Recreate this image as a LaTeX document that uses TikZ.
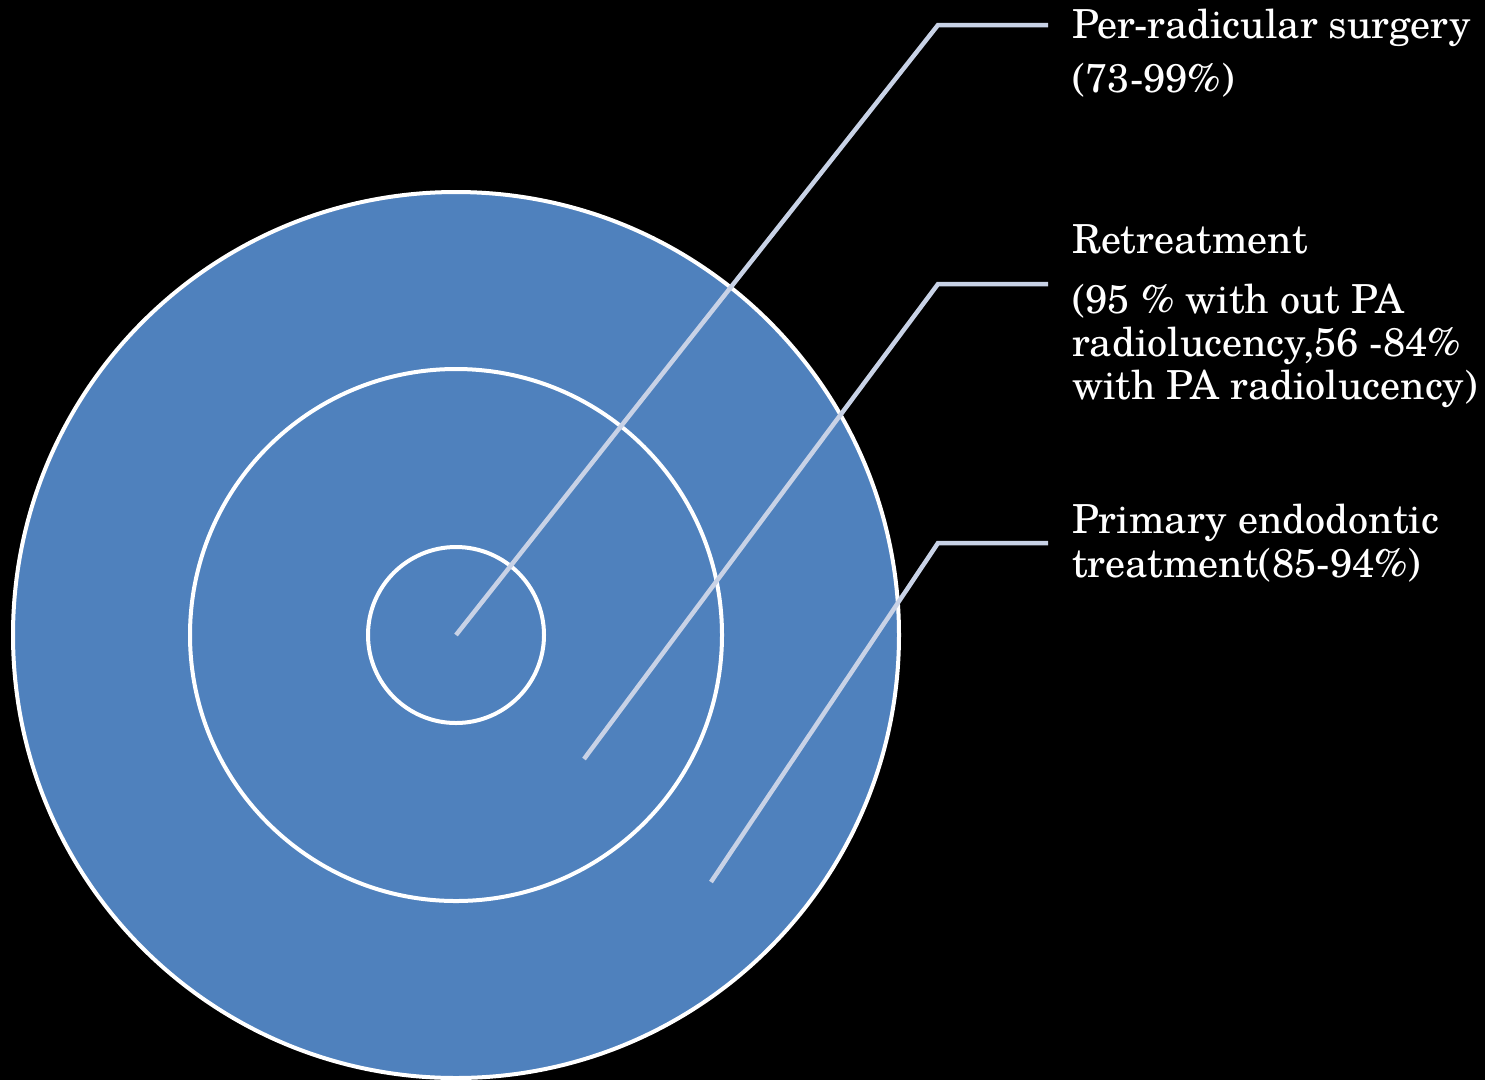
\documentclass[tikz,border=0pt]{standalone}
\usepackage{fontspec}
\setmainfont{texgyreschola-regular.otf}
\definecolor{fillblue}{RGB}{79,129,189}
\definecolor{leader}{RGB}{200,210,230}
\begin{document}
\begin{tikzpicture}[x=1pt,y=-1pt,
  ring/.style={draw=white,line width=4pt,fill=fillblue},
  leaderline/.style={draw=leader,line width=4.5pt},
  lbl/.style={text=white,font=\fontsize{40}{44}\selectfont,anchor=base west,inner sep=0pt}]
\fill[black] (0,0) rectangle (1485,1080);
\useasboundingbox (0,0) rectangle (1485,1080);
\coordinate (c) at (456,635);
\path[ring] (c) circle[radius=443];
\path[ring] (c) circle[radius=266];
\path[ring] (c) circle[radius=88];
% leader lines
\coordinate (e1) at (456,635);
\coordinate (k1) at (938,25);
\coordinate (t1) at (1048,25);
\coordinate (e2) at (584,759);
\coordinate (k2) at (938,284);
\coordinate (t2) at (1048,284);
\coordinate (e3) at (711,882);
\coordinate (k3) at (938,543);
\coordinate (t3) at (1048,543);
\draw[leaderline] (e1) -- (k1) -- (t1);
\draw[leaderline] (e2) -- (k2) -- (t2);
\draw[leaderline] (e3) -- (k3) -- (t3);
% labels
\node[lbl] (l1a) at (1072,38) {Per-radicular surgery};
\node[lbl] (l1b) at (1072,92) {(73-99\%)};
\node[lbl] (l2a) at (1072,253) {Retreatment};
\node[lbl] (l2b) at (1072,313) {(95 \% with out PA};
\node[lbl] (l2c) at (1072,356) {radiolucency,56 -84\%};
\node[lbl] (l2d) at (1072,399) {with PA radiolucency)};
\node[lbl] (l3a) at (1072,533) {Primary endodontic};
\node[lbl] (l3b) at (1072,577) {treatment(85-94\%)};
\end{tikzpicture}
\end{document}
